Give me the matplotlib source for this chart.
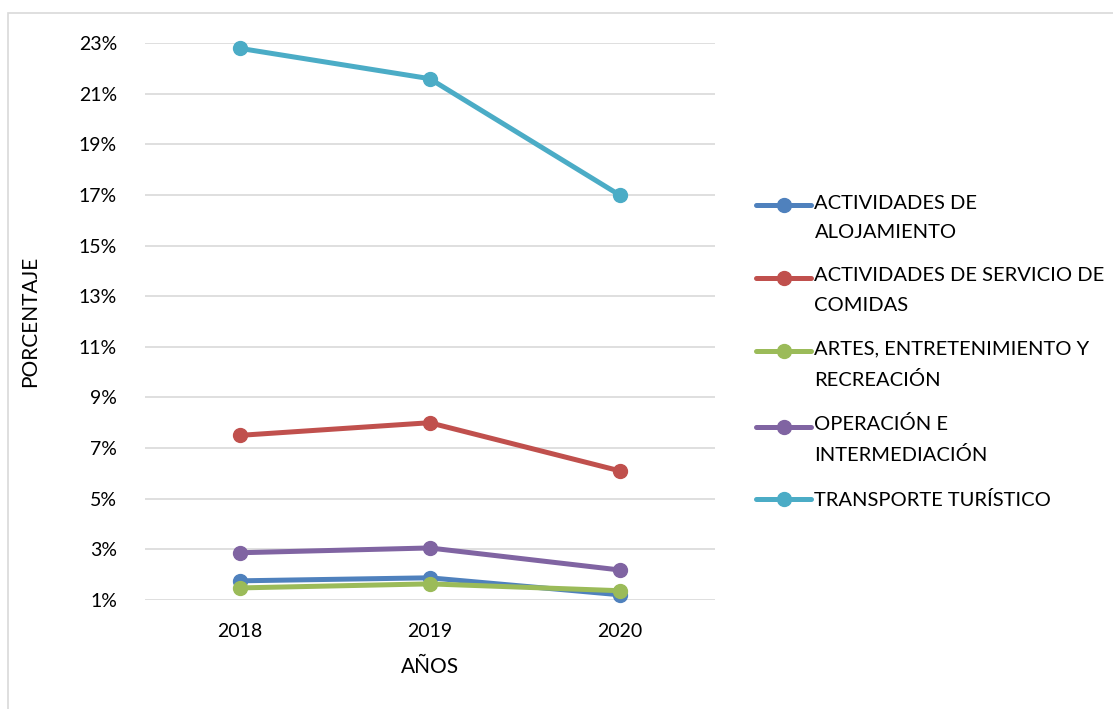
import matplotlib.pyplot as plt
from matplotlib.patches import Rectangle
from matplotlib.legend_handler import HandlerLine2D

plt.rcParams['font.family'] = ['Lato', 'DejaVu Sans']

years = ["2018", "2019", "2020"]
series_names = ["ACTIVIDADES DE\nALOJAMIENTO",
                "ACTIVIDADES DE SERVICIO DE\nCOMIDAS",
                "ARTES, ENTRETENIMIENTO Y\nRECREACIÓN",
                "OPERACIÓN E\nINTERMEDIACIÓN",
                "TRANSPORTE TURÍSTICO"]
alojamiento = [1.75, 1.87, 1.2]
comidas = [7.5, 8.0, 6.1]
artes = [1.47, 1.63, 1.36]
operacion = [2.86, 3.05, 2.18]
transporte = [22.8, 21.6, 17.0]
colors = ["#4F81BD", "#C0504D", "#9BBB59", "#8064A2", "#4BACC6"]


# legend handle next to the first line of a two-line label
class FirstLineHandler(HandlerLine2D):
    def __init__(self, shift=0, **kw):
        super().__init__(**kw)
        self.shift = shift

    def create_artists(self, legend, orig_handle, xdescent, ydescent,
                       width, height, fontsize, trans):
        return super().create_artists(legend, orig_handle, xdescent,
                                      ydescent - self.shift, width, height,
                                      fontsize, trans)


fig = plt.figure(figsize=(11.13, 7.09), dpi=100)
ax = fig.add_axes([0.130, 0.154, 0.512, 0.785])

x = range(len(years))
lines = []
for vals, name, c in zip([alojamiento, comidas, artes, operacion, transporte], series_names, colors):
    ln, = ax.plot(x, vals, color=c, lw=3.6, marker="o", ms=10, label=name,
                  clip_on=False, zorder=3, solid_capstyle="round")
    lines.append(ln)

ax.set_xlim(-0.5, 2.5)
ax.set_ylim(1, 23)
ax.set_yticks(range(1, 24, 2))
ax.set_yticklabels([f"{v}%" for v in range(1, 24, 2)])
ax.set_xticks(list(x))
ax.set_xticklabels(years)
ax.tick_params(length=0, labelsize=14, pad=20)
ax.tick_params(axis="x", pad=17)
ax.grid(axis="y", color="#D9D9D9", lw=1.2)
ax.set_axisbelow(True)
for s in ax.spines.values():
    s.set_visible(False)
ax.set_ylabel("PORCENTAJE", fontsize=15, labelpad=28)
ax.set_xlabel("AÑOS", fontsize=15, labelpad=12)

fs = 14.5
hmap = {ln: FirstLineHandler(shift=(1.3 * fs if "\n" in ln.get_label() else 0))
        for ln in lines}
leg = fig.legend(handles=lines, handler_map=hmap, loc="center left",
                 bbox_to_anchor=(0.663, 0.504), frameon=False,
                 fontsize=fs, handlelength=2.75, handletextpad=0.15,
                 labelspacing=1.3)
for t in leg.get_texts():
    t.set_linespacing(1.9)

fig.patches.append(Rectangle((8 / 1113, -0.01), 1.1, 1 - 13 / 709 + 0.01,
                             transform=fig.transFigure, fill=False,
                             edgecolor="#D9D9D9", lw=1.2))

plt.savefig("out.png", dpi=100)
